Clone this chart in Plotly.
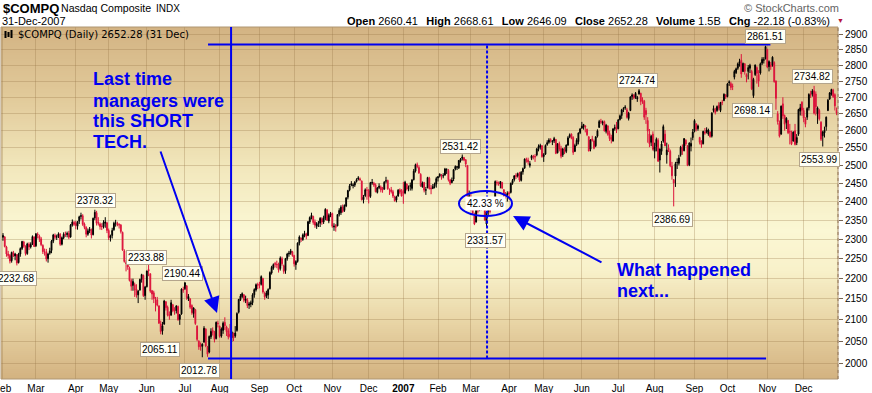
import math
import pandas as pd
import plotly.graph_objects as go

# ---------------- data ----------------
HOLIDAYS = ["2006-02-20", "2006-04-14", "2006-05-29", "2006-07-04", "2006-09-04", "2006-11-23",
            "2006-12-25", "2007-01-01", "2007-01-02", "2007-01-15", "2007-02-19", "2007-04-06",
            "2007-05-28", "2007-07-04", "2007-09-03", "2007-11-22", "2007-12-25"]

opens = [
    2305, 2306, 2280, 2262, 2258, 2245, 2265, 2257, 2260, 2240, 2262, 2276, 2293, 2282, 2263, 2287, 2280, 2288, 2306,
    2283, 2313, 2308, 2301, 2284, 2267, 2268, 2250, 2264, 2271, 2295, 2310, 2306, 2307, 2313, 2287, 2304, 2313, 2312, 2315, 2306, 2337, 2344,
    2342, 2334, 2347, 2360, 2362, 2340, 2331, 2313, 2322, 2325, 2312, 2356, 2370, 2344, 2340, 2334, 2333, 2342, 2343,
    2323, 2304, 2310, 2325, 2343, 2342, 2338, 2337, 2318, 2270, 2240, 2238, 2226, 2195, 2183, 2185, 2174, 2160, 2172, 2198, 2208, 2158,
    2180, 2223, 2212, 2170, 2165, 2145, 2148, 2133, 2090, 2074, 2090, 2143, 2130, 2112, 2111, 2136, 2123, 2122, 2132, 2101, 2114, 2173,
    2175, 2182, 2150, 2150, 2134, 2115, 2124, 2085, 2050, 2040, 2038, 2048, 2078, 2036, 2025, 2060, 2075, 2070, 2056, 2092,
    2085, 2062, 2075, 2094, 2083, 2074, 2066, 2058, 2068, 2062, 2075, 2118, 2148, 2156, 2160, 2146, 2148, 2135, 2137, 2141, 2160, 2172, 2185,
    2186, 2186, 2200, 2164, 2157, 2160, 2175, 2214, 2226, 2238, 2236, 2236, 2225, 2250, 2232, 2220, 2250, 2262, 2264, 2268,
    2258, 2235, 2243, 2290, 2302, 2299, 2311, 2313, 2310, 2345, 2357, 2360, 2346, 2334, 2342, 2342, 2354, 2345, 2356, 2377, 2348, 2364,
    2368, 2332, 2336, 2335, 2366, 2370, 2385, 2376, 2388, 2412, 2432, 2445, 2444, 2445, 2455, 2462, 2462, 2456, 2405, 2416, 2431,
    2430, 2414, 2451, 2450, 2446, 2425, 2438, 2440, 2436, 2434, 2456, 2458, 2430, 2432, 2427, 2413, 2404, 2415, 2432, 2424,
    2430, 2423, 2448, 2436, 2442, 2436, 2460, 2484, 2502, 2494, 2475, 2440, 2452, 2431, 2438, 2464, 2437, 2436, 2441, 2448,
    2465, 2470, 2473, 2471, 2473, 2487, 2486, 2459, 2452, 2462, 2490, 2495, 2493, 2513, 2520, 2522, 2516, 2500, 2408,
    2410, 2396, 2362, 2345, 2383, 2378, 2394, 2386, 2398, 2340, 2374, 2378, 2380, 2396, 2408, 2452, 2450, 2448, 2452, 2432, 2420, 2418,
    2424, 2425, 2450, 2460, 2472, 2470, 2478, 2458, 2482, 2493, 2518, 2515, 2500, 2520, 2526, 2526, 2530, 2548, 2552, 2556,
    2525, 2532, 2560, 2566, 2574, 2568, 2570, 2574, 2536, 2562, 2548, 2530, 2546, 2540, 2558, 2582, 2590, 2580, 2540, 2560, 2568, 2594,
    2608, 2610, 2614, 2604, 2582, 2546, 2576, 2570, 2556, 2584, 2610, 2628, 2622, 2627, 2598, 2614, 2592, 2580, 2570, 2606, 2612,
    2606, 2633, 2645, 2664, 2668, 2662, 2636, 2660, 2702, 2706, 2700, 2695, 2710, 2712, 2692, 2688, 2660, 2630, 2590, 2566, 2590,
    2540, 2554, 2572, 2515, 2540, 2570, 2590, 2530, 2550, 2540, 2498, 2460, 2470, 2508, 2506, 2530, 2552, 2542, 2572, 2555, 2502, 2555, 2580,
    2598, 2620, 2606, 2580, 2570, 2562, 2596, 2596, 2590, 2596, 2584, 2660, 2662, 2660, 2676, 2660, 2685, 2690, 2706,
    2702, 2745, 2742, 2734, 2762, 2776, 2790, 2806, 2815, 2780, 2804, 2770, 2780, 2790, 2780, 2705, 2770, 2792, 2770, 2775, 2806, 2815, 2820,
    2850, 2795, 2800, 2800, 2808, 2750, 2650, 2622, 2590, 2680, 2645, 2624, 2630, 2598, 2594, 2570, 2600, 2565, 2590, 2658, 2685,
    2660, 2635, 2640, 2668, 2710, 2710, 2720, 2710, 2650, 2660, 2625, 2585, 2594, 2612, 2660, 2695, 2710, 2722, 2708, 2660,
]
highs = [
    2316, 2308, 2283, 2270, 2262, 2268, 2270, 2265, 2262, 2265, 2279, 2296, 2296, 2284, 2291, 2292, 2292, 2310, 2307,
    2316, 2318, 2312, 2306, 2287, 2276, 2275, 2265, 2278, 2298, 2314, 2315, 2312, 2318, 2316, 2307, 2318, 2320, 2320, 2322, 2340, 2352, 2348,
    2348, 2348, 2362, 2370, 2366, 2344, 2334, 2328, 2332, 2328, 2357, 2378, 2375, 2358, 2344, 2342, 2350, 2358, 2346,
    2328, 2312, 2330, 2346, 2351, 2346, 2342, 2340, 2320, 2274, 2246, 2244, 2230, 2200, 2200, 2190, 2186, 2172, 2200, 2212, 2210, 2182,
    2220, 2234, 2213, 2172, 2170, 2155, 2155, 2135, 2098, 2095, 2148, 2145, 2134, 2120, 2148, 2138, 2130, 2135, 2134, 2114, 2176, 2180,
    2190, 2184, 2162, 2152, 2137, 2130, 2126, 2087, 2052, 2047, 2045, 2085, 2080, 2039, 2063, 2080, 2082, 2074, 2096, 2098,
    2086, 2082, 2096, 2106, 2086, 2080, 2090, 2074, 2070, 2085, 2118, 2150, 2162, 2166, 2162, 2158, 2152, 2143, 2146, 2164, 2176, 2188, 2190,
    2192, 2208, 2202, 2168, 2170, 2176, 2218, 2232, 2238, 2242, 2245, 2240, 2256, 2255, 2235, 2252, 2265, 2270, 2275, 2270,
    2260, 2246, 2292, 2310, 2305, 2315, 2322, 2317, 2348, 2360, 2370, 2362, 2352, 2345, 2348, 2358, 2358, 2362, 2382, 2380, 2368, 2372,
    2370, 2342, 2340, 2366, 2382, 2390, 2392, 2392, 2412, 2432, 2448, 2456, 2450, 2456, 2464, 2470, 2466, 2458, 2418, 2436, 2440,
    2434, 2454, 2462, 2454, 2450, 2440, 2450, 2444, 2440, 2456, 2468, 2460, 2436, 2440, 2432, 2416, 2416, 2434, 2436, 2434,
    2454, 2457, 2450, 2444, 2452, 2462, 2490, 2505, 2508, 2500, 2478, 2455, 2454, 2440, 2468, 2468, 2445, 2448, 2452, 2468,
    2470, 2478, 2476, 2478, 2493, 2492, 2490, 2462, 2466, 2490, 2500, 2498, 2515, 2521, 2531, 2524, 2518, 2500, 2430,
    2420, 2404, 2370, 2390, 2390, 2400, 2398, 2404, 2400, 2374, 2385, 2386, 2398, 2410, 2458, 2458, 2455, 2456, 2454, 2434, 2426, 2428,
    2428, 2452, 2462, 2472, 2478, 2480, 2482, 2484, 2494, 2520, 2522, 2522, 2512, 2530, 2530, 2532, 2550, 2560, 2562, 2558,
    2535, 2560, 2572, 2578, 2578, 2572, 2582, 2576, 2564, 2568, 2556, 2550, 2552, 2560, 2584, 2592, 2592, 2584, 2562, 2578, 2595, 2608,
    2626, 2620, 2616, 2606, 2584, 2575, 2585, 2574, 2584, 2604, 2632, 2635, 2630, 2630, 2620, 2616, 2600, 2588, 2608, 2618, 2626,
    2634, 2648, 2665, 2670, 2676, 2668, 2656, 2703, 2712, 2710, 2716, 2704, 2725, 2714, 2700, 2692, 2668, 2640, 2605, 2588, 2598,
    2565, 2580, 2578, 2548, 2570, 2618, 2602, 2565, 2560, 2545, 2510, 2462, 2510, 2520, 2530, 2556, 2560, 2578, 2575, 2558, 2566, 2580, 2605,
    2634, 2622, 2618, 2582, 2572, 2600, 2608, 2610, 2606, 2598, 2655, 2675, 2668, 2675, 2685, 2686, 2692, 2712, 2710,
    2744, 2752, 2748, 2742, 2785, 2792, 2808, 2820, 2835, 2808, 2806, 2774, 2800, 2804, 2785, 2760, 2802, 2796, 2784, 2808, 2825, 2825, 2862,
    2852, 2815, 2810, 2828, 2812, 2752, 2658, 2630, 2675, 2700, 2648, 2640, 2632, 2620, 2600, 2598, 2620, 2590, 2665, 2680, 2688,
    2668, 2640, 2670, 2712, 2720, 2725, 2735, 2718, 2672, 2665, 2628, 2600, 2612, 2642, 2695, 2716, 2726, 2726, 2712, 2669,
]
lows = [
    2296, 2279, 2255, 2250, 2238, 2240, 2254, 2246, 2233, 2238, 2255, 2272, 2278, 2258, 2260, 2272, 2276, 2285, 2280,
    2280, 2302, 2293, 2282, 2262, 2258, 2243, 2240, 2260, 2264, 2290, 2300, 2298, 2303, 2283, 2284, 2300, 2306, 2305, 2300, 2304, 2333, 2335,
    2326, 2325, 2340, 2352, 2335, 2326, 2305, 2309, 2316, 2302, 2310, 2350, 2336, 2336, 2325, 2324, 2328, 2330, 2316,
    2298, 2294, 2302, 2322, 2333, 2334, 2328, 2315, 2270, 2240, 2218, 2222, 2193, 2170, 2170, 2155, 2153, 2140, 2170, 2190, 2155, 2148,
    2178, 2206, 2165, 2148, 2140, 2120, 2132, 2090, 2066, 2065, 2088, 2122, 2108, 2100, 2110, 2118, 2112, 2115, 2098, 2088, 2112, 2165,
    2172, 2148, 2145, 2126, 2112, 2105, 2088, 2050, 2030, 2028, 2013, 2046, 2036, 2014, 2022, 2055, 2063, 2047, 2054, 2082,
    2058, 2058, 2067, 2076, 2062, 2054, 2058, 2048, 2050, 2058, 2072, 2115, 2145, 2152, 2142, 2140, 2128, 2126, 2130, 2135, 2153, 2168, 2174,
    2176, 2183, 2163, 2148, 2152, 2150, 2173, 2210, 2222, 2228, 2226, 2215, 2220, 2232, 2212, 2212, 2245, 2255, 2260, 2255,
    2230, 2222, 2240, 2284, 2293, 2296, 2305, 2300, 2308, 2340, 2352, 2338, 2330, 2327, 2332, 2332, 2338, 2340, 2350, 2348, 2342, 2358,
    2330, 2322, 2320, 2334, 2360, 2364, 2370, 2372, 2385, 2406, 2428, 2442, 2436, 2440, 2452, 2458, 2456, 2403, 2395, 2412, 2405,
    2395, 2410, 2446, 2440, 2425, 2422, 2434, 2425, 2424, 2432, 2450, 2432, 2418, 2422, 2410, 2400, 2398, 2413, 2420, 2414,
    2394, 2420, 2430, 2428, 2430, 2430, 2458, 2480, 2492, 2476, 2440, 2438, 2425, 2418, 2436, 2433, 2420, 2434, 2436, 2438,
    2455, 2466, 2460, 2464, 2471, 2476, 2455, 2445, 2450, 2456, 2486, 2487, 2490, 2508, 2514, 2512, 2495, 2401, 2395,
    2375, 2366, 2337, 2344, 2368, 2374, 2376, 2382, 2349, 2332, 2364, 2368, 2378, 2392, 2402, 2444, 2443, 2436, 2434, 2412, 2408, 2400,
    2406, 2422, 2446, 2455, 2462, 2466, 2454, 2455, 2474, 2490, 2508, 2502, 2494, 2515, 2517, 2510, 2526, 2540, 2545, 2522,
    2510, 2530, 2556, 2562, 2565, 2558, 2564, 2532, 2534, 2540, 2520, 2524, 2532, 2535, 2556, 2578, 2575, 2530, 2538, 2555, 2560, 2590,
    2605, 2603, 2595, 2584, 2540, 2540, 2568, 2546, 2552, 2580, 2608, 2620, 2616, 2598, 2592, 2585, 2570, 2563, 2568, 2600, 2593,
    2604, 2630, 2635, 2655, 2662, 2636, 2630, 2658, 2692, 2694, 2695, 2686, 2708, 2676, 2680, 2632, 2620, 2565, 2552, 2555, 2542,
    2520, 2540, 2510, 2480, 2530, 2565, 2555, 2505, 2538, 2495, 2460, 2387, 2440, 2490, 2500, 2525, 2530, 2540, 2555, 2498, 2498, 2540, 2572,
    2595, 2598, 2600, 2560, 2550, 2560, 2588, 2592, 2585, 2580, 2580, 2654, 2648, 2656, 2660, 2655, 2676, 2688, 2695,
    2700, 2735, 2722, 2722, 2755, 2772, 2785, 2795, 2760, 2778, 2770, 2746, 2755, 2775, 2722, 2698, 2766, 2742, 2732, 2770, 2800, 2805, 2818,
    2790, 2780, 2785, 2795, 2745, 2662, 2618, 2580, 2588, 2635, 2600, 2605, 2590, 2560, 2558, 2568, 2557, 2558, 2585, 2645, 2644,
    2625, 2610, 2632, 2660, 2698, 2702, 2648, 2645, 2620, 2630, 2570, 2554, 2580, 2600, 2658, 2692, 2705, 2698, 2660, 2646,
]
closes = [
    2310, 2281, 2262, 2258, 2244, 2266, 2258, 2262, 2239, 2262, 2276, 2294, 2282, 2263, 2288, 2280, 2287, 2307, 2281,
    2314, 2311, 2302, 2286, 2268, 2267, 2249, 2262, 2270, 2295, 2311, 2305, 2306, 2314, 2287, 2304, 2313, 2312, 2315, 2305, 2337, 2345, 2339,
    2336, 2346, 2359, 2362, 2339, 2331, 2313, 2322, 2326, 2311, 2355, 2371, 2342, 2342, 2333, 2333, 2344, 2345, 2323,
    2304, 2309, 2323, 2342, 2343, 2338, 2338, 2320, 2272, 2243, 2238, 2229, 2195, 2181, 2193, 2172, 2159, 2169, 2198, 2210, 2158, 2179,
    2219, 2219, 2169, 2162, 2151, 2145, 2135, 2092, 2072, 2086, 2145, 2129, 2111, 2110, 2141, 2122, 2121, 2133, 2100, 2112, 2174, 2172,
    2190, 2153, 2156, 2130, 2117, 2128, 2091, 2054, 2037, 2037, 2043, 2080, 2039, 2020, 2061, 2073, 2070, 2054, 2094, 2091,
    2061, 2078, 2092, 2086, 2072, 2060, 2061, 2071, 2057, 2069, 2115, 2149, 2157, 2163, 2147, 2150, 2134, 2138, 2141, 2160, 2173, 2185, 2184,
    2183, 2205, 2167, 2155, 2165, 2173, 2215, 2228, 2235, 2236, 2235, 2222, 2252, 2237, 2218, 2250, 2262, 2264, 2270, 2258,
    2237, 2243, 2290, 2306, 2300, 2311, 2315, 2308, 2346, 2357, 2363, 2344, 2337, 2341, 2342, 2355, 2345, 2356, 2379, 2350, 2363, 2367,
    2334, 2334, 2331, 2365, 2376, 2385, 2373, 2390, 2410, 2430, 2443, 2449, 2445, 2453, 2460, 2465, 2460, 2405, 2412, 2432, 2431,
    2413, 2452, 2452, 2445, 2427, 2437, 2442, 2432, 2431, 2453, 2457, 2435, 2430, 2427, 2415, 2402, 2413, 2431, 2425, 2415,
    2423, 2453, 2434, 2438, 2443, 2459, 2484, 2502, 2497, 2479, 2443, 2451, 2431, 2432, 2466, 2435, 2435, 2441, 2448, 2463,
    2468, 2475, 2470, 2471, 2490, 2488, 2460, 2450, 2459, 2488, 2497, 2496, 2514, 2518, 2524, 2515, 2504, 2407, 2416,
    2404, 2368, 2340, 2386, 2374, 2388, 2387, 2402, 2350, 2372, 2379, 2373, 2395, 2408, 2455, 2451, 2448, 2455, 2437, 2417, 2417, 2422,
    2422, 2450, 2458, 2471, 2469, 2477, 2459, 2481, 2491, 2518, 2516, 2510, 2505, 2527, 2524, 2524, 2547, 2554, 2557, 2525,
    2531, 2557, 2565, 2573, 2571, 2570, 2577, 2534, 2562, 2547, 2526, 2547, 2539, 2558, 2579, 2588, 2578, 2537, 2557, 2572, 2593, 2605,
    2613, 2618, 2611, 2588, 2541, 2573, 2572, 2549, 2582, 2600, 2627, 2626, 2626, 2599, 2616, 2589, 2577, 2574, 2605, 2609, 2603,
    2632, 2644, 2662, 2666, 2670, 2640, 2652, 2701, 2707, 2698, 2712, 2699, 2720, 2687, 2690, 2640, 2648, 2599, 2562, 2584, 2546,
    2553, 2575, 2512, 2547, 2561, 2612, 2556, 2544, 2542, 2499, 2471, 2451, 2505, 2508, 2521, 2552, 2541, 2577, 2561, 2500, 2564, 2563, 2596,
    2630, 2605, 2614, 2566, 2559, 2598, 2593, 2602, 2602, 2582, 2652, 2666, 2654, 2672, 2667, 2684, 2684, 2709, 2701,
    2741, 2747, 2730, 2733, 2780, 2788, 2804, 2811, 2772, 2805, 2780, 2763, 2792, 2799, 2726, 2755, 2800, 2774, 2750, 2804, 2818, 2817, 2859,
    2794, 2811, 2795, 2825, 2748, 2697, 2627, 2584, 2673, 2644, 2619, 2637, 2594, 2596, 2562, 2596, 2560, 2580, 2663, 2668, 2661,
    2637, 2619, 2666, 2709, 2707, 2719, 2652, 2671, 2668, 2635, 2575, 2596, 2601, 2640, 2691, 2713, 2724, 2702, 2674, 2652,
]

# swing-point price labels: (date, value, label offset px up(+)/down(-), x offset px)
swing_labels = [
    ("2006-02-13", 2232.68, -13, 0), ("2006-04-19", 2378.32, 9, 1),
    ("2006-06-02", 2233.88, 8, -2), ("2006-07-03", 2190.44, 8.5, -2),
    ("2006-06-14", 2065.11, -14.5, -2), ("2006-07-18", 2012.78, -13.6, -3),
    ("2007-02-22", 2531.42, 8, -2), ("2007-03-14", 2331.57, -13, -1),
    ("2007-07-19", 2724.74, 9, -2), ("2007-08-16", 2386.69, -13.5, -1),
    ("2007-10-22", 2698.14, -13, -1), ("2007-10-31", 2861.51, 9.6, 0),
    ("2007-12-11", 2734.82, 9, -2), ("2007-12-18", 2553.99, -12.6, -3),
]
ytick_vals = list(range(2000, 2901, 50))

# ---------------- calendar ----------------
days = pd.bdate_range("2006-02-01", "2007-12-31")
days = days[~days.isin(pd.to_datetime(HOLIDAYS))]
n = len(days)
assert len(opens) == len(highs) == len(lows) == len(closes) == n, (len(opens), len(highs), len(lows), len(closes), n)
bad = [i for i in range(n) if highs[i] < max(opens[i], closes[i]) or lows[i] > min(opens[i], closes[i])]
assert not bad, bad
xi = list(range(n))

tickvals, ticktext, prev = [], [], None
for i, d in enumerate(days):
    if (d.year, d.month) != prev:
        tickvals.append(i)
        ticktext.append("<b>%d</b>" % d.year if d.month == 1 else d.strftime("%b"))
        prev = (d.year, d.month)

def di(s):
    return days.get_loc(pd.Timestamp(s))

# ---------------- geometry ----------------
W, H = 872, 393
ML, MR, MT, MB = 1, 34, 27, 14
PW, PH = W - ML - MR, H - MT - MB
def pp(px, py):
    return (px - ML) / PW, (H - MB - py) / PH

FONT = "Liberation Sans, Arial, sans-serif"
BLUE = "rgb(0,0,240)"
RED = "#dc143c"

fig = go.Figure()
fig.add_trace(go.Candlestick(
    x=xi, open=opens, high=highs, low=lows, close=closes,
    increasing=dict(line=dict(color="black", width=1), fillcolor="black"),
    decreasing=dict(line=dict(color=RED, width=1), fillcolor=RED),
    whiskerwidth=0, showlegend=False, hoverinfo="skip"))

shapes = []
# gradient background
stops = [(27, (211, 179, 131)), (100, (226, 203, 155)), (170, (242, 232, 189)), (230, (251, 247, 212)),
         (270, (248, 241, 202)), (320, (233, 214, 167)), (379, (211, 178, 128))]
def col_at(py):
    for (y0, c0), (y1, c1) in zip(stops[:-1], stops[1:]):
        if y0 <= py <= y1:
            t = (py - y0) / (y1 - y0)
            return "rgb(%d,%d,%d)" % tuple(round(a + (b - a) * t) for a, b in zip(c0, c1))
    return "rgb(%d,%d,%d)" % stops[-1][1]
step = 2
for py in range(MT, H - MB, step):
    _, ya = pp(0, py)
    _, yb = pp(0, py + step)
    shapes.append(dict(type="rect", xref="paper", yref="paper", x0=0, x1=1, y0=yb, y1=ya,
                       fillcolor=col_at(py + step / 2), line=dict(width=0), layer="below"))
# frame and dotted right axis line
shapes.append(dict(type="rect", xref="paper", yref="paper", x0=0, x1=1, y0=0, y1=1,
                   line=dict(color="rgb(175,150,115)", width=1)))
shapes.append(dict(type="line", xref="paper", yref="paper", x0=1, x1=1, y0=0, y1=1,
                   line=dict(color="rgb(150,120,90)", width=1, dash="dot")))
# small chart-type icon before the inner title
for k, (a, b) in enumerate([(31, 38), (32, 37), (30, 38)]):
    xa, ya = pp(5.5 + 3 * k, a)
    _, yb = pp(0, b)
    shapes.append(dict(type="line", xref="paper", yref="paper", x0=xa, x1=xa, y0=ya, y1=yb,
                       line=dict(color="black", width=2)))

# blue hand-drawn markup
top_lvl, bot_lvl = 2866, 2010
x_vline = di("2006-08-10") - 0.4
x_dot = di("2007-03-14") + 0.3
x_start, x_end = di("2006-07-21") + 0.3, di("2007-10-31") + 0.3
shapes.append(dict(type="line", xref="x", yref="paper", x0=x_vline, x1=x_vline, y0=0, y1=1,
                   line=dict(color=BLUE, width=2)))
shapes.append(dict(type="line", xref="x", yref="y", x0=x_start, x1=x_end + 2.5, y0=top_lvl, y1=top_lvl,
                   line=dict(color=BLUE, width=2)))
shapes.append(dict(type="line", xref="x", yref="y", x0=x_start, x1=x_end, y0=bot_lvl, y1=bot_lvl,
                   line=dict(color=BLUE, width=2)))
shapes.append(dict(type="line", xref="x", yref="y", x0=x_dot, x1=x_dot, y0=bot_lvl, y1=top_lvl,
                   line=dict(color=BLUE, width=2, dash="3px,2px")))
shapes.append(dict(type="circle", xref="x", yref="y", x0=263.1, x1=293.7, y0=2361, y1=2429,
                   line=dict(color=BLUE, width=2)))

ann = []
lg = math.log10
for d, v, dy, dx in swing_labels:
    ann.append(dict(x=di(d), y=lg(v), xref="x", yref="y", text="%.2f" % v, showarrow=False,
                    yshift=dy, xshift=dx, font=dict(family=FONT, size=10, color="black"),
                    bgcolor="rgb(255,255,246)", bordercolor="rgb(180,165,140)", borderwidth=1, borderpad=1))
ann.append(dict(x=278.5, y=lg(2396), xref="x", yref="y", text="42.33 %", showarrow=False,
                font=dict(family=FONT, size=10, color="black"), bgcolor="white", borderpad=1))
# arrows
ann.append(dict(x=123.5, y=lg(2116), ax=90.6, ay=lg(2544), xref="x", yref="y", axref="x", ayref="y",
                text="", showarrow=True, arrowhead=2, arrowsize=1.6, arrowwidth=2, arrowcolor=BLUE, standoff=0))
ann.append(dict(x=294.3, y=lg(2361), ax=346.2, ay=lg(2239), xref="x", yref="y", axref="x", ayref="y",
                text="", showarrow=True, arrowhead=2, arrowsize=1.6, arrowwidth=2, arrowcolor=BLUE, standoff=0))
# first (partly hidden) month label at the left edge
ann.append(dict(x=0, y=-0.006, xref="x", yref="paper", text="Feb", showarrow=False, yanchor="top",
                font=dict(family=FONT, size=10, color="black")))

def ptext(px, py, text, size, color="black", xanchor="left", family=FONT, bold=False):
    x, y = pp(px, py)
    if bold:
        text = "<b>%s</b>" % text
    ann.append(dict(x=x, y=y, xref="paper", yref="paper", text=text, showarrow=False,
                    xanchor=xanchor, yanchor="middle", font=dict(family=family, size=size, color=color)))

for py, t in [(79, "Last time"), (100.5, "managers were"), (121, "this SHORT"), (142, "TECH.")]:
    ptext(91, py, t, 18, BLUE, bold=True)
for py, t in [(270, "What happened"), (291, "next...")]:
    ptext(615, py, t, 18, BLUE, bold=True)

ptext(1, 8, "$COMPQ", 13, bold=True)
ptext(59, 8, "Nasdaq Composite", 10.6)
ptext(154, 8.5, "INDX", 10)
ptext(0, 21, "31-Dec-2007", 11)
sp = "\u00a0\u00a0\u2009"
quote = ("<b>Open</b> 2660.41" + sp + "<b>High</b> 2668.61" + sp + "<b>Low</b> 2646.09" + sp +
         "<b>Close</b> 2652.28" + sp + "<b>Volume</b> 1.5B" + sp + "<b>Chg</b> -22.18 (-0.83%)")
ptext(832, 21, quote, 11, xanchor="right")
ptext(835, 21, "\u25bc", 7, color="rgb(180,20,60)")
ptext(841, 8, "\u00a9 StockCharts.com", 11, color="rgb(100,100,100)", xanchor="right")
ptext(16, 34.5, "$COMPQ (Daily) 2652.28 (31 Dec)", 10, family="DejaVu Sans, sans-serif")

fig.update_layout(
    width=W, height=H, margin=dict(l=ML, r=MR, t=MT, b=MB, pad=0),
    paper_bgcolor="white", plot_bgcolor="rgba(0,0,0,0)",
    showlegend=False, shapes=shapes, annotations=ann,
    xaxis=dict(range=[-1.15, 481.8], tickmode="array", tickvals=tickvals, ticktext=ticktext,
               showgrid=True, gridcolor="rgba(150,115,70,0.3)", gridwidth=1, zeroline=False,
               showline=False, ticks="", ticklabelstandoff=2,
               tickfont=dict(family=FONT, size=10, color="black"),
               rangeslider=dict(visible=False), fixedrange=True, automargin=False),
    yaxis=dict(type="log", range=[3.293182, 3.465831], side="right", tickmode="array",
               tickvals=ytick_vals, ticktext=[str(v) for v in ytick_vals],
               showgrid=True, gridcolor="rgba(150,115,70,0.3)", gridwidth=1, zeroline=False,
               showline=False, ticks="outside", ticklen=4, tickcolor="rgb(120,100,80)",
               tickfont=dict(family=FONT, size=10, color="black"), fixedrange=True, automargin=False),
)
fig.write_html("out.html", config={"displayModeBar": False},
               post_script="document.body.style.margin='0';document.body.style.overflow='hidden';")
